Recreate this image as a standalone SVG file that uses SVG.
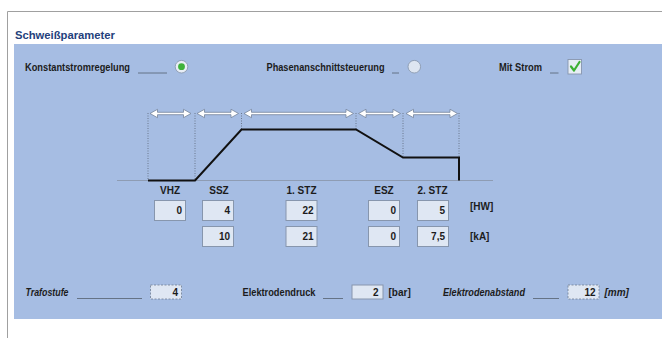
<svg xmlns="http://www.w3.org/2000/svg" width="662" height="338" viewBox="0 0 662 338">
<defs>
<style>
.lbl{font-family:"Liberation Sans",Arial,sans-serif;font-size:10px;font-weight:bold;fill:#1c1c1c}
.it{font-style:italic}
.val{font-family:"Liberation Sans",Arial,sans-serif;font-size:10px;font-weight:bold;fill:#1c1c1c;text-anchor:end}
.ctr{text-anchor:middle}
.box{fill:#dfe7f3;stroke:#8796ad;stroke-width:1}
.dbox{fill:#dfe7f3;stroke:#6f7d93;stroke-width:0.8;stroke-dasharray:2 1.5}
.ul{stroke:#54606f;stroke-width:0.8}
.dot{stroke:#5a6577;stroke-width:0.8;stroke-dasharray:1 1.5;fill:none}
.arr{fill:#ffffff;stroke:#74839b;stroke-width:0.8}
</style>
</defs>
<rect x="0" y="0" width="662" height="338" fill="#ffffff"/>
<path d="M7.5 338 V11.5 H662" fill="none" stroke="#a0a0a0" stroke-width="1"/>
<text x="15" y="39" font-family="'Liberation Sans',Arial,sans-serif" font-size="11.5" font-weight="bold" fill="#24417c" textLength="100" lengthAdjust="spacingAndGlyphs">Schweißparameter</text>
<rect x="14" y="44" width="648" height="275" fill="#a6bde3"/>

<g id="konstantstrom">
<text class="lbl" x="25" y="70.5" textLength="105" lengthAdjust="spacingAndGlyphs">Konstantstromregelung</text>
<line class="ul" x1="138" y1="73" x2="167" y2="73"/>
<circle cx="181.5" cy="66.7" r="6.3" fill="#e8eef6" stroke="#8a9ab0" stroke-width="0.9"/>
<circle cx="181.5" cy="66.7" r="3.4" fill="#3fb23a"/>
</g>
<g id="phasenanschnitt">
<text class="lbl" x="266.5" y="70.5" textLength="118" lengthAdjust="spacingAndGlyphs">Phasenanschnittsteuerung</text>
<line class="ul" x1="392" y1="73" x2="399" y2="73"/>
<circle cx="414.3" cy="66.7" r="6.3" fill="#dde5f1" stroke="#8a9ab0" stroke-width="0.9"/>
</g>
<g id="mitstrom">
<text class="lbl" x="499" y="70.5" textLength="43" lengthAdjust="spacingAndGlyphs">Mit Strom</text>
<line class="ul" x1="550" y1="73" x2="558.5" y2="73"/>
<rect x="568" y="59.5" width="13.5" height="14.5" fill="#e6edf5" stroke="#8796ad" stroke-width="0.9"/>
<path d="M571 66.5 L574 70.5 L579.5 62" fill="none" stroke="#3cb034" stroke-width="2.2" stroke-linecap="round" stroke-linejoin="round"/>
</g>

<g id="chart">
<line x1="117" y1="180.5" x2="493" y2="180.5" stroke="#8e9cb3" stroke-width="1.2"/>
<g id="connectors">
<line class="dot" x1="148" y1="113" x2="148" y2="180"/>
<line class="dot" x1="195" y1="113" x2="195" y2="180"/>
<line class="dot" x1="241.5" y1="113" x2="241.5" y2="129"/>
<line class="dot" x1="356" y1="113" x2="356" y2="129"/>
<line class="dot" x1="403" y1="113" x2="403" y2="157"/>
<line class="dot" x1="459" y1="113" x2="459" y2="157"/>
<polyline points="148,180.5 195,180.5 241.5,129.5 356,129.5 403,157.5 459,157.5 459,180.5" fill="none" stroke="#111111" stroke-width="2" stroke-linejoin="miter"/>
<path class="arr" d="M150 113.5 L157.5 109.3 L157.5 112.3 L183.5 112.3 L183.5 109.3 L191 113.5 L183.5 117.7 L183.5 114.7 L157.5 114.7 L157.5 117.7 Z"/>
<path class="arr" d="M197 113.5 L204.5 109.3 L204.5 112.3 L231 112.3 L231 109.3 L238.5 113.5 L231 117.7 L231 114.7 L204.5 114.7 L204.5 117.7 Z"/>
<path class="arr" d="M244 113.5 L251.5 109.3 L251.5 112.3 L346 112.3 L346 109.3 L353.5 113.5 L346 117.7 L346 114.7 L251.5 114.7 L251.5 117.7 Z"/>
<path class="arr" d="M358.5 113.5 L366 109.3 L366 112.3 L393 112.3 L393 109.3 L400.5 113.5 L393 117.7 L393 114.7 L366 114.7 L366 117.7 Z"/>
<path class="arr" d="M406 113.5 L413.5 109.3 L413.5 112.3 L450 112.3 L450 109.3 L457.5 113.5 L450 117.7 L450 114.7 L413.5 114.7 L413.5 117.7 Z"/>
</g>
</g>

<g id="vhz">
<text class="lbl ctr" x="170" y="194" font-size="9.5">VHZ</text>
<rect class="box" x="154.5" y="200.5" width="31" height="20"/>
<text class="val" x="182" y="214">0</text>
</g>
<g id="ssz">
<text class="lbl ctr" x="219" y="194">SSZ</text>
<rect class="box" x="202.5" y="200.5" width="31" height="20"/>
<text class="val" x="230" y="214">4</text>
<rect class="box" x="202.5" y="226.5" width="31" height="20"/>
<text class="val" x="230" y="240">10</text>
</g>
<g id="stz1">
<text class="lbl ctr" x="301.5" y="194">1. STZ</text>
<rect class="box" x="286" y="200.5" width="31" height="20"/>
<text class="val" x="313.5" y="214">22</text>
<rect class="box" x="286" y="226.5" width="31" height="20"/>
<text class="val" x="313.5" y="240">21</text>
</g>
<g id="esz">
<text class="lbl ctr" x="384" y="194">ESZ</text>
<rect class="box" x="368.5" y="200.5" width="31" height="20"/>
<text class="val" x="396" y="214">0</text>
<rect class="box" x="368.5" y="226.5" width="31" height="20"/>
<text class="val" x="396" y="240">0</text>
</g>
<g id="stz2">
<text class="lbl ctr" x="432.5" y="194">2. STZ</text>
<rect class="box" x="417.5" y="200.5" width="31" height="20"/>
<text class="val" x="445" y="214">5</text>
<rect class="box" x="417.5" y="226.5" width="31" height="20"/>
<text class="val" x="445" y="240">7,5</text>
</g>
<g id="units">
<text class="lbl" x="470" y="210">[HW]</text>
<text class="lbl" x="470" y="240">[kA]</text>
</g>

<g id="trafostufe">
<text class="lbl it" x="25.5" y="296" textLength="43" lengthAdjust="spacingAndGlyphs">Trafostufe</text>
<line class="ul" x1="77" y1="298.5" x2="142" y2="298.5"/>
<rect class="dbox" x="150.5" y="285" width="31" height="14"/>
<text class="val" x="178" y="296">4</text>
</g>
<g id="elektrodendruck">
<text class="lbl" x="242.5" y="296" textLength="73" lengthAdjust="spacingAndGlyphs">Elektrodendruck</text>
<line class="ul" x1="323" y1="298.5" x2="343" y2="298.5"/>
<rect class="box" x="352" y="285" width="31" height="14"/>
<text class="val" x="378.5" y="296">2</text>
<text class="lbl" x="388.5" y="296">[bar]</text>
</g>
<g id="elektrodenabstand">
<text class="lbl it" x="443" y="296" textLength="82" lengthAdjust="spacingAndGlyphs">Elektrodenabstand</text>
<line class="ul" x1="533" y1="298.5" x2="559" y2="298.5"/>
<rect class="dbox" x="568" y="285" width="31" height="14"/>
<text class="val" x="595.5" y="296">12</text>
<text class="lbl it" x="604.5" y="296">[mm]</text>
</g>
</svg>
